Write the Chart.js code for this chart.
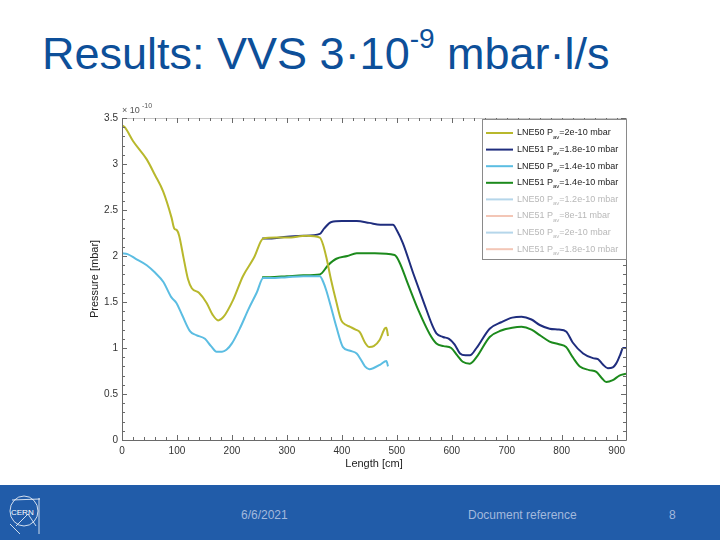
<!DOCTYPE html>
<html>
<head>
<meta charset="utf-8">
<script src="https://cdn.jsdelivr.net/npm/chart.js@4.4.1/dist/chart.umd.min.js"></script>
<style>
  body { margin: 0; width: 720px; height: 540px; background: #fff; position: relative; overflow: hidden; font-family: "Liberation Sans", Arial, sans-serif; }
  #title { position: absolute; left: 42px; top: 28px; font-size: 45px; color: #0d4f99; white-space: nowrap; }
  #title sup { font-size: 28px; position: relative; top: -3px; vertical-align: top; line-height: 1; }
  #wrap { position: absolute; left: 60px; top: 95px; width: 590px; height: 385px; }
  #footer { position: absolute; left: 0; top: 485px; width: 720px; height: 55px; background: #215ca9; color: #a3b9dd; font-size: 12px; }
  #footer span { position: absolute; top: 23px; }
  #logo { position: absolute; left: 6px; top: 5px; }
</style>
</head>
<body>
<div id="title">Results: VVS 3·10<sup>-9</sup> mbar·l/s</div>
<div id="wrap"><canvas id="myChart" width="590" height="385"></canvas></div>
<div id="footer">
  <svg id="logo" width="40" height="46" viewBox="0 0 40 46">
    <g fill="none" stroke="#fff" stroke-width="0.8">
      <ellipse cx="18" cy="21" rx="14" ry="15"/>
      <path d="M6 10 L34 9 M33 8 L33 44 M10 36 L22 24 L30 36 M4 34 L14 44"/>
    </g>
    <text x="5" y="25" font-size="8" fill="#fff" font-family="Liberation Sans, Arial">CERN</text>
  </svg>
  <span style="left:241px">6/6/2021</span>
  <span style="left:468px">Document reference</span>
  <span style="left:669px">8</span>
</div>
<script>
// series, pressure in units of 1e-10 mbar
const lne50aX = [0, 5, 20, 45, 60, 75, 90, 95, 100, 104, 112, 120, 127, 140, 154, 165, 175, 185, 202, 220, 240, 257,
  280, 300, 336, 360, 366, 372, 380, 390, 399, 408, 415, 425, 433, 442, 450, 458, 469, 478, 481, 484]
const lne50aY = [3.42, 3.40, 3.25, 3.05, 2.88, 2.70, 2.42, 2.30, 2.28, 2.22, 1.98, 1.75, 1.65, 1.60, 1.49, 1.36, 1.30, 1.34, 1.52, 1.78, 1.98, 2.19,
  2.20, 2.20, 2.22, 2.20, 2.12, 1.98, 1.75, 1.50, 1.30, 1.25, 1.23, 1.20, 1.17, 1.06, 1.01, 1.02, 1.09, 1.21, 1.22, 1.13]

const lne51aX = [255, 269, 300, 330, 360, 368, 381, 400, 427, 450, 470, 493, 500, 511, 530, 550, 565, 572, 584, 595, 605, 615, 625, 633,
  645, 669, 690, 710, 727, 745, 760, 778, 795, 808, 820, 839, 857, 866, 875, 884, 893, 899, 906, 912, 917]
const lne51aY = [2.19, 2.19, 2.21, 2.22, 2.24, 2.30, 2.37, 2.38, 2.38, 2.36, 2.34, 2.34, 2.28, 2.14, 1.81, 1.48, 1.24, 1.16, 1.12, 1.10, 1.04, 0.94, 0.92, 0.92,
  1.00, 1.21, 1.28, 1.33, 1.34, 1.31, 1.25, 1.21, 1.20, 1.18, 1.06, 0.94, 0.89, 0.88, 0.82, 0.78, 0.79, 0.83, 0.92, 1.00, 1.00]

const lne50bX = [0, 10, 25, 45, 60, 75, 90, 99, 110, 124, 135, 151, 162, 172, 182, 190, 200, 215, 230, 245, 257,
  270, 300, 330, 360, 366, 372, 380, 390, 402, 415, 427, 435, 442, 450, 457, 470, 481, 484]
const lne50bY = [2.03, 2.02, 1.97, 1.90, 1.82, 1.72, 1.55, 1.49, 1.35, 1.18, 1.14, 1.10, 1.02, 0.96, 0.96, 0.98, 1.05, 1.22, 1.42, 1.60, 1.76,
  1.76, 1.77, 1.78, 1.78, 1.72, 1.62, 1.45, 1.23, 1.01, 0.97, 0.94, 0.87, 0.80, 0.77, 0.78, 0.82, 0.86, 0.80]

const lne51bX = [255, 269, 300, 330, 360, 375, 390, 410, 427, 460, 496, 505, 520, 540, 560, 572, 585, 599, 610, 620, 633,
  645, 669, 690, 710, 727, 745, 760, 778, 795, 808, 820, 833, 850, 863, 872, 881, 893, 905, 917]
const lne51bY = [1.77, 1.77, 1.78, 1.79, 1.80, 1.90, 1.97, 2.00, 2.03, 2.03, 2.01, 1.93, 1.70, 1.40, 1.15, 1.05, 1.02, 1.00, 0.92, 0.85, 0.83,
  0.90, 1.12, 1.19, 1.22, 1.23, 1.20, 1.14, 1.07, 1.04, 1.01, 0.90, 0.80, 0.76, 0.74, 0.68, 0.63, 0.65, 0.70, 0.72]

const legendNames = ['LNE50', 'LNE51', 'LNE50', 'LNE51', 'LNE50', 'LNE51', 'LNE50', 'LNE51']
const legendValues = ['2e-10', '1.8e-10', '1.4e-10', '1.4e-10', '1.2e-10', '8e-11', '2e-10', '1.8e-10']
const lineColors = ['#b8b82c', '#1f2d7e', '#5bbde2', '#1c8a1c', '#b5d6ea', '#f3c6b6', '#b5d6ea', '#f3c6b6']
const seriesX = [lne50aX, lne51aX, lne50bX, lne51bX, [], [], [], []]
const seriesY = [lne50aY, lne51aY, lne50bY, lne51bY, [], [], [], []]

const xTicks = [0, 100, 200, 300, 400, 500, 600, 700, 800, 900]
const yTicks = [0, 0.5, 1, 1.5, 2, 2.5, 3, 3.5]

const datasets = legendNames.map((name, i) => ({
  label: name + ' Pav=' + legendValues[i] + ' mbar',
  data: seriesX[i].map((x, j) => ({ x: x, y: seriesY[i][j] })),
  borderColor: lineColors[i],
  borderWidth: 2,
  pointRadius: 0,
  cubicInterpolationMode: 'monotone',
  showLine: true
}))

const axisColor = '#6a6a6a'

// MATLAB style box with inward ticks, exponent and legend
const boxPlugin = {
  id: 'box',
  afterDraw(chart) {
    const c = chart.ctx, a = chart.chartArea
    const xs = chart.scales.x, ys = chart.scales.y
    c.save()
    c.strokeStyle = axisColor
    c.lineWidth = 1
    c.beginPath()
    c.moveTo(a.left + 0.5, a.top + 0.5); c.lineTo(a.left + 0.5, a.bottom + 0.5)
    c.lineTo(a.right + 0.5, a.bottom + 0.5); c.lineTo(a.right + 0.5, a.top + 0.5)
    c.stroke()
    c.strokeStyle = '#c8c8c8'
    c.beginPath(); c.moveTo(a.left, a.top + 0.5); c.lineTo(a.right, a.top + 0.5); c.stroke()
    c.strokeStyle = axisColor
    c.beginPath()
    for (let v = 0; v <= 900; v += 20) {
      const px = Math.round(xs.getPixelForValue(v)) + 0.5
      const len = v % 100 === 0 ? 5 : 3
      c.moveTo(px, a.bottom); c.lineTo(px, a.bottom - len)
      c.moveTo(px, a.top); c.lineTo(px, a.top + len)
    }
    for (let k = 0; k <= 35; k++) {
      const py = Math.round(ys.getPixelForValue(k / 10)) + 0.5
      const len = k % 5 === 0 ? 5 : 3
      c.moveTo(a.left, py); c.lineTo(a.left + len, py)
      c.moveTo(a.right, py); c.lineTo(a.right - len, py)
    }
    c.stroke()

    // exponent
    c.fillStyle = '#555'
    c.font = '9px "Liberation Sans", Arial'
    c.textBaseline = 'alphabetic'
    c.fillText('\u00d7 10', a.left, a.top - 5)
    c.font = '7px "Liberation Sans", Arial'
    c.fillText('-10', a.left + 20, a.top - 10)

    // legend
    const lw = 144, lh = 140
    const lx = a.right - lw, ly = a.top + 1
    c.fillStyle = '#fff'
    c.fillRect(lx, ly, lw, lh)
    c.strokeStyle = '#8a8a8a'
    c.strokeRect(lx + 0.5, ly + 0.5, lw, lh)
    chart.data.datasets.forEach((ds, i) => {
      const y = ly + 14 + i * 16.6
      c.strokeStyle = ds.borderColor
      c.lineWidth = 2
      c.beginPath(); c.moveTo(lx + 4, y); c.lineTo(lx + 31, y); c.stroke()
      c.fillStyle = i < 4 ? '#222' : '#b8b8b8'
      c.font = '9px "Liberation Sans", Arial'
      c.textBaseline = 'middle'
      let tx = lx + 35
      const t1 = legendNames[i] + ' P'
      c.fillText(t1, tx, y)
      tx += c.measureText(t1).width
      c.font = '6px "Liberation Sans", Arial'
      c.fillText('av', tx, y + 4)
      tx += c.measureText('av').width
      c.font = '9px "Liberation Sans", Arial'
      c.fillText('=' + legendValues[i] + ' mbar', tx, y)
    })
    c.restore()
  }
}

const config = {
  type: 'scatter',
  data: { datasets },
  options: {
    responsive: false,
    animation: false,
    layout: { padding: { top: 23, right: 24, left: 0, bottom: 0 } },
    plugins: { legend: { display: false }, tooltip: { enabled: false } },
    scales: {
      x: {
        type: 'linear', min: 0, max: 917,
        afterBuildTicks: s => { s.ticks = xTicks.map(v => ({ value: v })) },
        afterFit: s => { s.height = 40 },
        grid: { display: false, drawTicks: false },
        border: { display: false },
        ticks: { color: '#333', font: { size: 10, family: '"Liberation Sans", Arial' }, padding: 5, maxRotation: 0 },
        title: { display: true, text: 'Length [cm]', color: '#222', font: { size: 11, family: '"Liberation Sans", Arial' }, padding: { top: 0, bottom: 9 } }
      },
      y: {
        min: 0, max: 3.5,
        afterBuildTicks: s => { s.ticks = yTicks.map(v => ({ value: v })) },
        afterFit: s => { s.width = 62 },
        grid: { display: false, drawTicks: false },
        border: { display: false },
        ticks: { color: '#333', font: { size: 10, family: '"Liberation Sans", Arial' }, padding: 4, callback: v => String(v) },
        title: { display: true, text: 'Pressure [mbar]', color: '#222', font: { size: 11, family: '"Liberation Sans", Arial' }, padding: { top: 28, bottom: 0 } }
      }
    }
  },
  plugins: [boxPlugin]
}

const myChart = new Chart(document.getElementById('myChart'), config)
</script>
</body>
</html>
